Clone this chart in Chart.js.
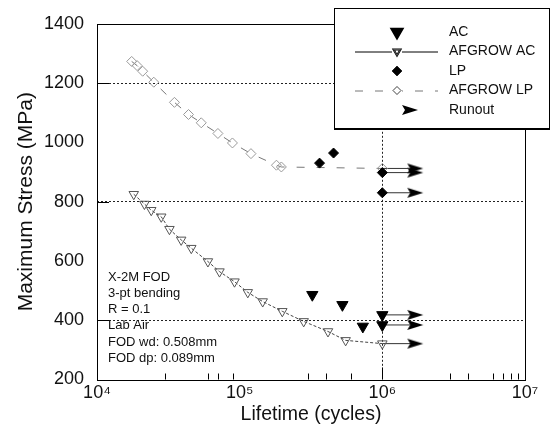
<!DOCTYPE html>
<html>
<head>
<meta charset="utf-8">
<script src="https://cdn.jsdelivr.net/npm/chart.js@4.4.1/dist/chart.umd.min.js"></script>
<style>
  body { margin: 0; background: #fff; }
  canvas { display: block; }
</style>
</head>
<body>
<canvas id="snChart" width="552" height="433"></canvas>
<script>
// test results, lifetime (cycles) vs max stress (MPa)
const acCycles = [3.23e5, 5.25e5, 7.3e5, 1e6, 1e6];
const acStress = [486, 452, 379, 418, 384];

const lpCycles = [3.63e5, 4.55e5, 1e6, 1e6];
const lpStress = [930, 964, 898, 830];

// AFGROW predictions
const afgAcCycles = [18.1e3, 21.5e3, 24e3, 28.2e3, 32.2e3, 38.9e3, 45.8e3, 59.9e3, 72.2e3, 92e3, 114e3, 145e3, 199e3, 281e3, 416e3, 553e3, 1e6];
const afgAcStress = [825, 792, 771, 749, 707, 671, 643, 598, 564, 530, 494, 463, 430, 396, 362, 332, 321];

const afgLpCycles = [17.5e3, 19.1e3, 20.9e3, 25e3, 34.9e3, 43.8e3, 53.8e3, 70.4e3, 89e3, 120e3, 181e3, 196e3, 1e6];
const afgLpStress = [1273, 1259, 1240, 1203, 1135, 1094, 1066, 1030, 998, 962, 923, 917, 912];

// runouts (stopped at 1e6)
const runoutStart = 1e6;
const runoutEnd = 1.7e6;
const runoutStress = [912, 898, 830, 418, 384, 321];

const xTicks = [1e4, 1e5, 1e6, 1e7];
const minorTicks = [3e4, 6e4, 7e4, 9e4, 3e5, 4e5, 6e5, 3e6, 4e6, 6e6, 7e6, 8e6, 9e6];
const gridStress = [400, 800, 1200];
const gridCycles = [1e6];

const notes = ['X-2M FOD', '3-pt bending', 'R = 0.1', 'Lab Air', 'FOD wd: 0.508mm', 'FOD dp: 0.089mm'];

const FONT = "'Liberation Sans', Arial, sans-serif";
const sup = {4: '\u2074', 5: '\u2075', 6: '\u2076', 7: '\u2077'};

function pts(xs, ys) {
  return xs.map((x, i) => ({x: x, y: ys[i]}));
}

function makeArrow() {
  const c = document.createElement('canvas');
  c.width = 18; c.height = 12;
  const g = c.getContext('2d');
  g.fillStyle = '#000';
  g.beginPath();
  g.moveTo(1, 1);
  g.lineTo(17, 6);
  g.lineTo(1, 11);
  g.lineTo(4, 6);
  g.closePath();
  g.fill();
  return c;
}
const arrow = makeArrow();

const datasets = [
  {
    label: 'AC', type: 'scatter', data: pts(acCycles, acStress),
    pointStyle: 'triangle', rotation: 180, pointRadius: 6.5,
    backgroundColor: '#000', borderColor: '#000', borderWidth: 1
  },
  {
    label: 'LP', type: 'scatter', data: pts(lpCycles, lpStress),
    pointStyle: 'rectRot', pointRadius: 5,
    backgroundColor: '#000', borderColor: '#000', borderWidth: 1
  },
  {
    label: 'AFGROW AC', type: 'line', data: pts(afgAcCycles, afgAcStress),
    borderColor: '#444', borderWidth: 1, borderDash: [3, 2],
    pointStyle: 'triangle', rotation: 180, pointRadius: 5.5,
    pointBackgroundColor: 'rgba(0,0,0,0)', pointBorderColor: '#555', pointBorderWidth: 1
  },
  {
    label: 'AFGROW LP', type: 'line', data: pts(afgLpCycles, afgLpStress),
    borderColor: '#777', borderWidth: 1, borderDash: [8, 12],
    pointStyle: 'rectRot', pointRadius: 5,
    pointBackgroundColor: 'rgba(0,0,0,0)', pointBorderColor: '#999', pointBorderWidth: 1
  }
];

runoutStress.forEach(s => {
  datasets.push({
    label: 'Runout', type: 'line',
    data: [{x: runoutStart, y: s}, {x: runoutEnd, y: s}],
    borderColor: '#333', borderWidth: 1,
    pointStyle: arrow, pointRadius: [0, 8]
  });
});

// frame, inner ticks, notes, boxed legend
const decorations = {
  id: 'decorations',
  beforeDatasetsDraw(chart) {
    const {ctx, chartArea: a, scales} = chart;
    ctx.save();
    ctx.strokeStyle = '#000';
    ctx.lineWidth = 1;
    ctx.strokeRect(Math.round(a.left) + 0.5, Math.round(a.top) + 0.5,
      Math.round(a.right - a.left), Math.round(a.bottom - a.top));
    ctx.beginPath();
    gridStress.forEach(v => {
      const y = Math.round(scales.y.getPixelForValue(v)) + 0.5;
      ctx.moveTo(a.left, y); ctx.lineTo(a.left + 12, y);
    });
    minorTicks.forEach(v => {
      const x = Math.round(scales.x.getPixelForValue(v)) + 0.5;
      ctx.moveTo(x, a.bottom); ctx.lineTo(x, a.bottom - 6);
    });
    gridCycles.forEach(v => {
      const x = Math.round(scales.x.getPixelForValue(v)) + 0.5;
      ctx.moveTo(x, a.bottom); ctx.lineTo(x, a.bottom - 12);
    });
    ctx.stroke();

    ctx.fillStyle = '#111';
    ctx.font = '13px ' + FONT;
    ctx.textBaseline = 'middle';
    notes.forEach((t, i) => ctx.fillText(t, a.left + 11, 277 + i * 16.3));
    ctx.restore();
  },
  afterDraw(chart) {
    const ctx = chart.ctx;
    const x0 = 334, y0 = 8, w = 216, h = 121;
    ctx.save();
    ctx.fillStyle = '#fff';
    ctx.fillRect(x0, y0, w, h);
    ctx.strokeStyle = '#000';
    ctx.lineWidth = 1;
    ctx.strokeRect(x0 + 0.5, y0 + 0.5, w - 1, h - 1);
    ctx.lineWidth = 2;
    ctx.beginPath();
    ctx.moveTo(x0, y0 + h); ctx.lineTo(x0 + w, y0 + h);
    ctx.stroke();

    const rows = [datasets[0], datasets[2], datasets[1], datasets[3], datasets[4]];
    const sx = 397;
    rows.forEach((ds, i) => {
      const y = y0 + 24 + i * 19.5;
      if (ds.type === 'line' && ds.label !== 'Runout') {
        ctx.save();
        ctx.strokeStyle = ds.label === 'AFGROW LP' ? '#777' : '#000';
        ctx.lineWidth = 1;
        ctx.setLineDash(ds.label === 'AFGROW LP' ? [8, 12] : []);
        ctx.beginPath();
        ctx.moveTo(355, y + 0.5); ctx.lineTo(438, y + 0.5);
        ctx.stroke();
        ctx.restore();
        ctx.fillStyle = '#fff';
        ctx.fillRect(sx - 5, y - 4, 10, 8);
        Chart.helpers.drawPoint(ctx, {
          pointStyle: ds.pointStyle, rotation: ds.rotation || 0,
          radius: 4, borderWidth: 1
        }, sx, y);
        ctx.strokeStyle = ds.pointBorderColor;
        ctx.lineWidth = 1;
        ctx.stroke();
      } else if (ds.label === 'Runout') {
        ctx.drawImage(arrow, 410 - 9, y - 6);
      } else {
        ctx.fillStyle = ds.backgroundColor;
        Chart.helpers.drawPoint(ctx, {
          pointStyle: ds.pointStyle, rotation: ds.rotation || 0,
          radius: ds.pointRadius, borderWidth: 1
        }, sx, y);
        ctx.fill();
      }
      ctx.fillStyle = '#111';
      ctx.font = '14px ' + FONT;
      ctx.textBaseline = 'middle';
      ctx.fillText(ds.label, 449, y);
    });
    ctx.restore();
  }
};

new Chart(document.getElementById('snChart'), {
  type: 'scatter',
  data: {datasets: datasets},
  options: {
    responsive: false,
    animation: false,
    layout: {padding: {top: 22, right: 27, left: 0, bottom: 0}},
    plugins: {legend: {display: false}, tooltip: {enabled: false}},
    scales: {
      x: {
        type: 'logarithmic', min: 1e4, max: 1e7,
        afterBuildTicks: s => { s.ticks = xTicks.map(v => ({value: v})); },
        afterFit: s => { s.height = 53.5; },
        ticks: {
          color: '#111', padding: 3, maxRotation: 0, autoSkip: false,
          font: {family: FONT, size: 18},
          callback: v => '10' + sup[Math.round(Math.log10(v))]
        },
        grid: {
          drawTicks: false,
          color: c => (c.tick && gridCycles.includes(c.tick.value)) ? '#222' : 'rgba(0,0,0,0)'
        },
        border: {display: false, dash: [2, 2]},
        title: {
          display: true, text: 'Lifetime (cycles)', color: '#111',
          font: {family: FONT, size: 19.5}, padding: {top: 0, bottom: 7}
        }
      },
      y: {
        min: 200, max: 1400,
        afterFit: s => { s.width = 97; },
        ticks: {
          stepSize: 200, color: '#111', padding: 13,
          font: {family: FONT, size: 18},
          callback: v => String(v)
        },
        grid: {
          drawTicks: false,
          color: c => (c.tick && gridStress.includes(c.tick.value)) ? '#222' : 'rgba(0,0,0,0)'
        },
        border: {display: false, dash: [2, 2]},
        title: {
          display: true, text: 'Maximum Stress (MPa)', color: '#111',
          font: {family: FONT, size: 21}, padding: {top: 14, bottom: 0}
        }
      }
    }
  },
  plugins: [decorations]
});
</script>
</body>
</html>
